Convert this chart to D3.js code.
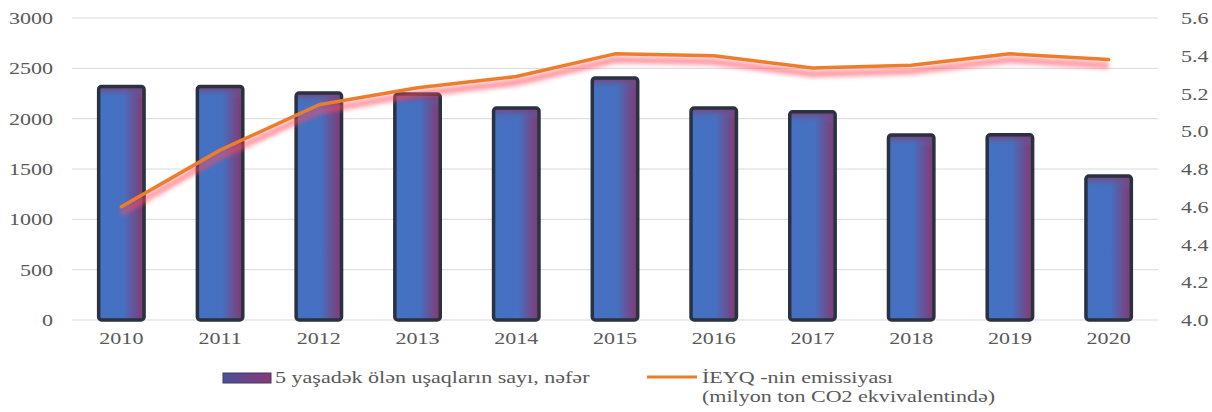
<!DOCTYPE html>
<html>
<head>
<meta charset="utf-8">
<script src="https://d3js.org/d3.v7.min.js"></script>
<style>
  html, body { margin: 0; padding: 0; background: #fff; }
  svg text { font-family: "Liberation Serif", "Times New Roman", Tinos, "DejaVu Serif", serif; fill: #595959; }
</style>
</head>
<body>
<div id="chart"></div>
<script>
// Data
var years = ['2010', '2011', '2012', '2013', '2014', '2015', '2016', '2017', '2018', '2019', '2020'];
var deaths = [2320, 2320, 2255, 2245, 2105, 2405, 2105, 2068, 1838, 1840, 1430];
var emissions = [4.60, 4.90, 5.14, 5.23, 5.29, 5.41, 5.40, 5.335, 5.35, 5.41, 5.38];
var leftTicks = [0, 500, 1000, 1500, 2000, 2500, 3000];
var rightTicks = [4.0, 4.2, 4.4, 4.6, 4.8, 5.0, 5.2, 5.4, 5.6];
var barLabel = '5 yaşadək ölən uşaqların sayı, nəfər';
var lineLabel = ['İEYQ -nin emissiyası', '(milyon ton CO2 ekvivalentində)'];

var width = 1212, height = 412;
var margin = { left: 72, right: 54, top: 18, bottom: 92 };
var fontSize = '17.5px';
var stretch = 'scale(1.26,1)'; // the source picture is a bit wider than tall

var svg = d3.select('#chart').append('svg')
  .attr('width', width)
  .attr('height', height);

var defs = svg.append('defs');

// bar gradient: blue body, purple toward the right edge
var grad = defs.append('linearGradient').attr('id', 'barGrad')
  .attr('x1', '0%').attr('x2', '100%').attr('y1', '0%').attr('y2', '0%');
grad.append('stop').attr('offset', '0%').attr('stop-color', '#4471c3');
grad.append('stop').attr('offset', '55%').attr('stop-color', '#4670c0');
grad.append('stop').attr('offset', '80%').attr('stop-color', '#6a4f93');
grad.append('stop').attr('offset', '100%').attr('stop-color', '#833a6c');

var topGrad = defs.append('linearGradient').attr('id', 'topGrad')
  .attr('x1', '0%').attr('x2', '0%').attr('y1', '0%').attr('y2', '100%');
topGrad.append('stop').attr('offset', '0%').attr('stop-color', '#8a3868').attr('stop-opacity', 0.9);
topGrad.append('stop').attr('offset', '100%').attr('stop-color', '#4471c3').attr('stop-opacity', 0);

var blur = defs.append('filter').attr('id', 'glow')
  .attr('x', '-5%').attr('y', '-50%').attr('width', '110%').attr('height', '200%');
blur.append('feGaussianBlur').attr('stdDeviation', 2.2);

var legGrad = defs.append('linearGradient').attr('id', 'legGrad')
  .attr('x1', '0%').attr('x2', '100%');
legGrad.append('stop').attr('offset', '0%').attr('stop-color', '#4a4f9a');
legGrad.append('stop').attr('offset', '100%').attr('stop-color', '#8a3a78');

var x = d3.scaleBand()
  .domain(years)
  .range([margin.left, width - margin.right])
  .paddingInner(0.54)
  .paddingOuter(0.27);

var yL = d3.scaleLinear().domain([0, 3000]).range([height - margin.bottom, margin.top]);
var yR = d3.scaleLinear().domain([4.0, 5.6]).range([height - margin.bottom, margin.top]);

// gridlines
svg.append('g')
  .selectAll('line')
  .data(leftTicks)
  .join('line')
  .attr('x1', margin.left)
  .attr('x2', width - margin.right)
  .attr('y1', function(d) { return yL(d); })
  .attr('y2', function(d) { return yL(d); })
  .attr('stroke', '#d9d9d9')
  .attr('stroke-width', 1);

function styleAxis(ax) {
  ax.select('.domain').remove();
  ax.attr('font-family', null);
  ax.selectAll('text')
    .style('font-size', fontSize)
    .attr('fill', '#595959')
    .attr('transform', stretch);
}

// left axis
var axL = svg.append('g')
  .attr('transform', 'translate(' + (margin.left - 19) + ',0)')
  .call(d3.axisLeft(yL).tickValues(leftTicks).tickSize(0).tickPadding(0).tickFormat(d3.format('d')));
styleAxis(axL);

// right axis
var axR = svg.append('g')
  .attr('transform', 'translate(' + (width - margin.right + 23) + ',0)')
  .call(d3.axisRight(yR).tickValues(rightTicks).tickSize(0).tickPadding(0).tickFormat(d3.format('.1f')));
styleAxis(axR);

// bottom axis
var axB = svg.append('g')
  .attr('transform', 'translate(0,' + (height - margin.bottom) + ')')
  .call(d3.axisBottom(x).tickSize(0).tickPadding(12));
styleAxis(axB);

// bars
var bars = svg.append('g');
bars.selectAll('rect.bar')
  .data(years)
  .join('rect')
  .attr('class', 'bar')
  .attr('x', function(d) { return x(d); })
  .attr('width', x.bandwidth())
  .attr('y', function(d, i) { return yL(deaths[i]); })
  .attr('height', function(d, i) { return yL(0) - yL(deaths[i]); })
  .attr('rx', 3)
  .attr('fill', 'url(#barGrad)');
bars.selectAll('rect.top')
  .data(years)
  .join('rect')
  .attr('class', 'top')
  .attr('x', function(d) { return x(d); })
  .attr('width', x.bandwidth())
  .attr('y', function(d, i) { return yL(deaths[i]); })
  .attr('height', 12)
  .attr('fill', 'url(#topGrad)');
bars.selectAll('rect.edge')
  .data(years)
  .join('rect')
  .attr('class', 'edge')
  .attr('x', function(d) { return x(d); })
  .attr('width', x.bandwidth())
  .attr('y', function(d, i) { return yL(deaths[i]); })
  .attr('height', function(d, i) { return yL(0) - yL(deaths[i]); })
  .attr('rx', 3)
  .attr('fill', 'none')
  .attr('stroke', '#283241')
  .attr('stroke-width', 3.5);

// line with soft red glow below it
var line = d3.line()
  .x(function(d, i) { return x(years[i]) + x.bandwidth() / 2; })
  .y(function(d) { return yR(d); });

svg.append('path')
  .datum(emissions)
  .attr('d', line)
  .attr('transform', 'translate(0,6)')
  .attr('fill', 'none')
  .attr('stroke', '#ff4d5e')
  .attr('stroke-opacity', 0.55)
  .attr('stroke-width', 7)
  .attr('filter', 'url(#glow)');

svg.append('path')
  .datum(emissions)
  .attr('d', line)
  .attr('fill', 'none')
  .attr('stroke', '#ee7d2b')
  .attr('stroke-width', 3.5)
  .attr('stroke-linejoin', 'round')
  .attr('stroke-linecap', 'round');

// legend
var leg = svg.append('g');
leg.append('rect')
  .attr('x', 223).attr('y', 373).attr('width', 48).attr('height', 10)
  .attr('fill', 'url(#legGrad)')
  .attr('stroke', '#3a3f5a').attr('stroke-width', 1);

function legText(px, py, str) {
  leg.append('text')
    .attr('transform', 'translate(' + px + ',' + py + ') ' + stretch)
    .style('font-size', fontSize)
    .text(str);
}
legText(275, 383, barLabel);
leg.append('line')
  .attr('x1', 647).attr('x2', 697).attr('y1', 377).attr('y2', 377)
  .attr('stroke', '#ee7d2b').attr('stroke-width', 3);
legText(702, 383, lineLabel[0]);
legText(702, 402, lineLabel[1]);
</script>
</body>
</html>
